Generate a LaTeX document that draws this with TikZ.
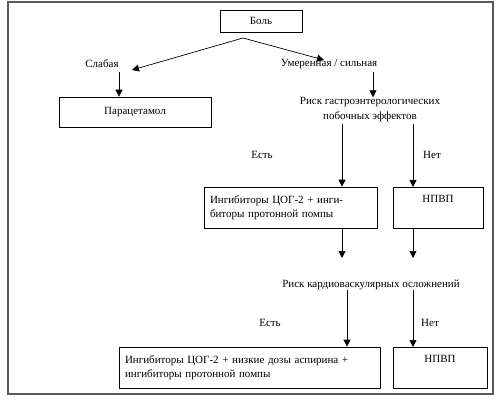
\documentclass[tikz,border=0pt]{standalone}
\usepackage{fontspec}
\setmainfont{Liberation Serif}
\usetikzlibrary{arrows.meta}
\begin{document}
\begin{tikzpicture}[x=1pt,y=-1pt,
  box/.style={draw,line width=0.7pt,inner sep=0pt},
  lbl/.style={inner sep=0pt,font=\fontsize{11}{13}\selectfont},
  arr/.style={line width=0.7pt,-{Triangle[length=7pt,width=7pt]}},
  txt/.style={font=\fontsize{11}{14.5}\selectfont}]
\useasboundingbox (0,0) rectangle (500,403);
\draw[gray!70!black,line width=1.3pt] (8,2) rectangle (493,394);
% boxes
\node[box,txt,minimum width=82pt,minimum height=22pt] (bol) at (261,21) {Боль};
\node[box,txt,minimum width=152pt,minimum height=30pt] (para) at (135,112) {Парацетамол};
\node[box,txt,minimum width=173pt,minimum height=41pt,align=left,text width=161pt] (inh1) at (290.5,207.5) {Ингибиторы ЦОГ-2 + инги-\\биторы протонной помпы};
\node[box,txt,minimum width=90pt,text height=15pt,text depth=26pt,text width=90pt,align=center] (npvp1) at (438,187) [anchor=north] {НПВП};
\node[box,txt,minimum width=261pt,minimum height=41pt,align=left,text width=249pt] (inh2) at (249.5,367.5) {Ингибиторы ЦОГ-2 + низкие дозы аспирина +\\ингибиторы протонной помпы};
\node[box,txt,minimum width=94pt,text height=15pt,text depth=26pt,text width=94pt,align=center] (npvp2) at (440,347) [anchor=north] {НПВП};
% labels
\node[lbl,txt] (slab) at (102,64) {Слабая};
\node[lbl,txt] (umer) at (329,64) {Умеренная / сильная};
\node[lbl,txt,align=center] (gastro) at (370,109.5) {Риск гастроэнтерологических\\побочных эффектов};
\node[lbl,txt] (est1) at (262,155) {Есть};
\node[lbl,txt] (net1) at (432,155) {Нет};
\node[lbl,txt] (kardio) at (371,285) {Риск кардиоваскулярных осложнений};
\node[lbl,txt] (est2) at (270,323) {Есть};
\node[lbl,txt] (net2) at (430,323) {Нет};
% coordinates
\coordinate (split) at (243,38);
\coordinate (tslab) at (132,70);
\coordinate (tumer) at (324,60);
\coordinate (a1) at (119,72);
\coordinate (a2) at (373,72);
\coordinate (g1) at (342,124);
\coordinate (g2) at (413,124);
\coordinate (k1) at (342,258);
\coordinate (k2) at (413,258);
\coordinate (c1) at (347,290);
\coordinate (c2) at (413,290);
% connectors
\draw[arr] (split) -- (tslab);
\draw[arr] (split) -- (tumer);
\draw[arr] (a1) -- (a1 |- para.north);
\draw[arr] (a2) -- (a2 |- gastro.north);
\draw[arr] (g1) -- (g1 |- inh1.north);
\draw[arr] (g2) -- (g2 |- npvp1.north);
\draw[arr] (k1 |- inh1.south) -- (k1);
\draw[arr] (k2 |- npvp1.south) -- (k2);
\draw[arr] (c1) -- (c1 |- inh2.north);
\draw[arr] (c2) -- (c2 |- npvp2.north);
\end{tikzpicture}
\end{document}
